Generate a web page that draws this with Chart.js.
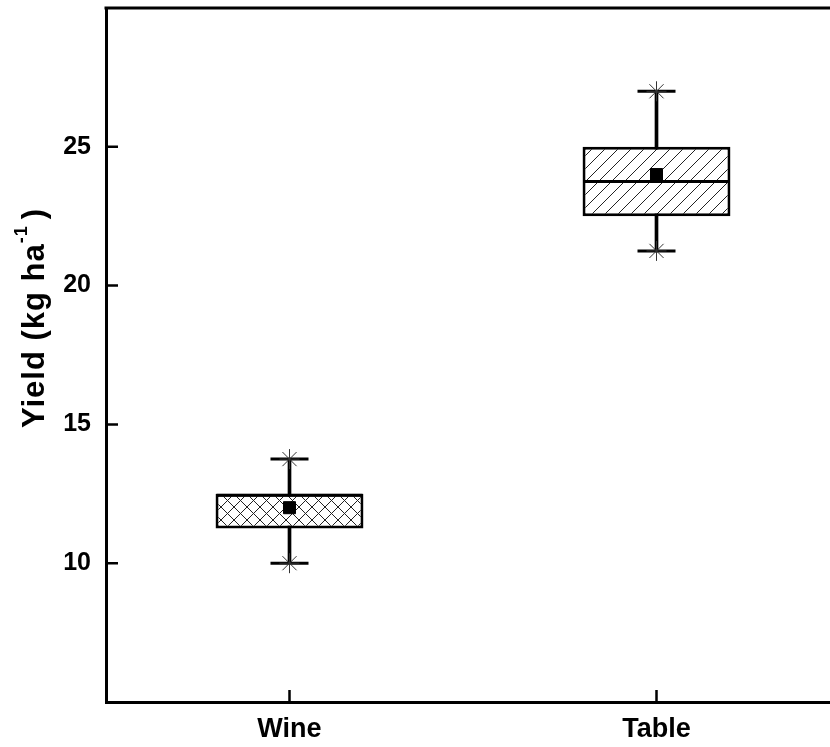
<!DOCTYPE html>
<html>
<head>
<meta charset="utf-8">
<script src="https://cdn.jsdelivr.net/npm/chart.js@4/dist/chart.umd.min.js"></script>
<style>
  html, body { margin: 0; padding: 0; background: #fff; overflow: hidden; }
  #yieldChart { display: block; }
</style>
</head>
<body>
<canvas id="yieldChart" width="840" height="747"></canvas>
<script>
// data
let categories = ["Wine", "Table"];
let q1Values = [11.25, 22.5];
let q3Values = [12.5, 25];
let medianValues = [12.45, 23.75];
let meanValues = [12, 24];
let minValues = [10, 21.25];
let maxValues = [13.75, 27];
let yTicks = [10, 15, 20, 25];

let FONT = "'Liberation Sans', Arial, sans-serif";

// hatch patterns for the boxes
function makeHatch(cross) {
  let s = 13;
  let c = document.createElement("canvas");
  c.width = s;
  c.height = s;
  let g = c.getContext("2d");
  g.fillStyle = "#fff";
  g.fillRect(0, 0, s, s);
  g.strokeStyle = "#222";
  g.lineWidth = 1;
  g.beginPath();
  g.moveTo(-1, s + 1);
  g.lineTo(s + 1, -1);
  if (cross) {
    g.moveTo(-1, -1);
    g.lineTo(s + 1, s + 1);
  }
  g.stroke();
  return g.createPattern(c, "repeat");
}

let frameAndTitle = {
  id: "frameAndTitle",
  afterDraw: function (chart) {
    let ctx = chart.ctx;
    let area = chart.chartArea;
    let y = chart.scales.y;
    let x = chart.scales.x;
    ctx.save();
    ctx.strokeStyle = "#000";
    ctx.lineWidth = 3;
    // top frame line
    ctx.beginPath();
    ctx.moveTo(area.left - 1.5, area.top);
    ctx.lineTo(area.right, area.top);
    ctx.stroke();
    // inward ticks
    ctx.lineWidth = 2.5;
    ctx.beginPath();
    y.ticks.forEach(function (t) {
      let py = y.getPixelForValue(t.value);
      ctx.moveTo(area.left, py);
      ctx.lineTo(area.left + 12, py);
    });
    categories.forEach(function (c, i) {
      let px = x.getPixelForValue(i);
      ctx.moveTo(px, area.bottom);
      ctx.lineTo(px, area.bottom - 12);
    });
    ctx.stroke();

    // y title with superscript
    ctx.translate(35, (area.top + area.bottom) / 2 - 37);
    ctx.rotate(-Math.PI / 2);
    ctx.fillStyle = "#000";
    ctx.textBaseline = "middle";
    let big = "bold 31px " + FONT;
    let small = "bold 18px " + FONT;
    ctx.letterSpacing = "1px";
    ctx.font = big;
    let w1 = ctx.measureText("Yield (kg ha").width;
    let w3 = ctx.measureText(")").width;
    ctx.font = small;
    let w2 = ctx.measureText("-1").width + 6;
    let start = -(w1 + w2 + w3) / 2;
    ctx.textAlign = "left";
    ctx.font = big;
    ctx.fillText("Yield (kg ha", start, 0);
    ctx.font = small;
    ctx.fillText("-1", start + w1, -13);
    ctx.font = big;
    ctx.fillText(")", start + w1 + w2, 0);
    ctx.restore();
  }
};

let ctx = document.getElementById("yieldChart").getContext("2d");

let boxChart = new Chart(ctx, {
  type: "bar",
  data: {
    labels: categories,
    datasets: [
      {
        // whisker stems
        type: "bar",
        data: minValues.map(function (v, i) { return [v, maxValues[i]]; }),
        backgroundColor: "#000",
        barThickness: 3,
        grouped: false,
        order: 6
      },
      {
        // boxes
        type: "bar",
        data: q1Values.map(function (v, i) { return [v, q3Values[i]]; }),
        backgroundColor: [makeHatch(true), makeHatch(false)],
        borderColor: "#000",
        borderWidth: 3,
        borderSkipped: false,
        barPercentage: 0.403,
        categoryPercentage: 1,
        grouped: false,
        order: 5
      },
      {
        // median line
        type: "line",
        data: medianValues,
        showLine: false,
        pointStyle: "line",
        pointRadius: 73,
        pointBorderWidth: 3,
        pointBorderColor: "#000",
        order: 4
      },
      {
        // whisker caps (max)
        type: "line",
        data: maxValues,
        showLine: false,
        pointStyle: "line",
        pointRadius: 19,
        pointBorderWidth: 3,
        pointBorderColor: "#000",
        order: 3
      },
      {
        // whisker caps (min)
        type: "line",
        data: minValues,
        showLine: false,
        pointStyle: "line",
        pointRadius: 19,
        pointBorderWidth: 3,
        pointBorderColor: "#000",
        order: 3
      },
      {
        // star markers at max
        type: "line",
        data: maxValues,
        showLine: false,
        pointStyle: "star",
        pointRadius: 10,
        pointBorderWidth: 1,
        pointBorderColor: "#333",
        order: 2
      },
      {
        // star markers at min
        type: "line",
        data: minValues,
        showLine: false,
        pointStyle: "star",
        pointRadius: 10,
        pointBorderWidth: 1,
        pointBorderColor: "#333",
        order: 2
      },
      {
        // mean square
        type: "line",
        data: meanValues,
        showLine: false,
        pointStyle: "rect",
        pointRadius: 8.5,
        pointBackgroundColor: "#000",
        pointBorderColor: "#000",
        pointBorderWidth: 1,
        order: 1
      }
    ]
  },
  options: {
    responsive: false,
    animation: false,
    devicePixelRatio: 1,
    events: [],
    layout: { autoPadding: false, padding: { top: 8, right: 0, left: 0, bottom: 0 } },
    plugins: {
      legend: { display: false },
      tooltip: { enabled: false }
    },
    scales: {
      x: {
        type: "category",
        offset: true,
        grid: { display: false, drawTicks: false },
        border: { display: true, color: "#000", width: 3 },
        ticks: {
          color: "#000",
          padding: 11,
          font: { family: FONT, size: 27, weight: "bold" }
        },
        afterFit: function (scale) {
          scale.height = 45;
          scale.paddingLeft = 0;
          scale.paddingRight = 0;
        }
      },
      y: {
        min: 5,
        max: 30,
        grid: { display: false, drawTicks: false },
        border: { display: true, color: "#000", width: 3 },
        afterBuildTicks: function (scale) {
          scale.ticks = yTicks.map(function (v) { return { value: v }; });
        },
        ticks: {
          color: "#000",
          padding: 15,
          font: { family: FONT, size: 25, weight: "bold" }
        },
        afterFit: function (scale) {
          scale.width = 106;
          scale.paddingTop = 0;
          scale.paddingBottom = 0;
        }
      }
    }
  },
  plugins: [frameAndTitle]
});
</script>
</body>
</html>
